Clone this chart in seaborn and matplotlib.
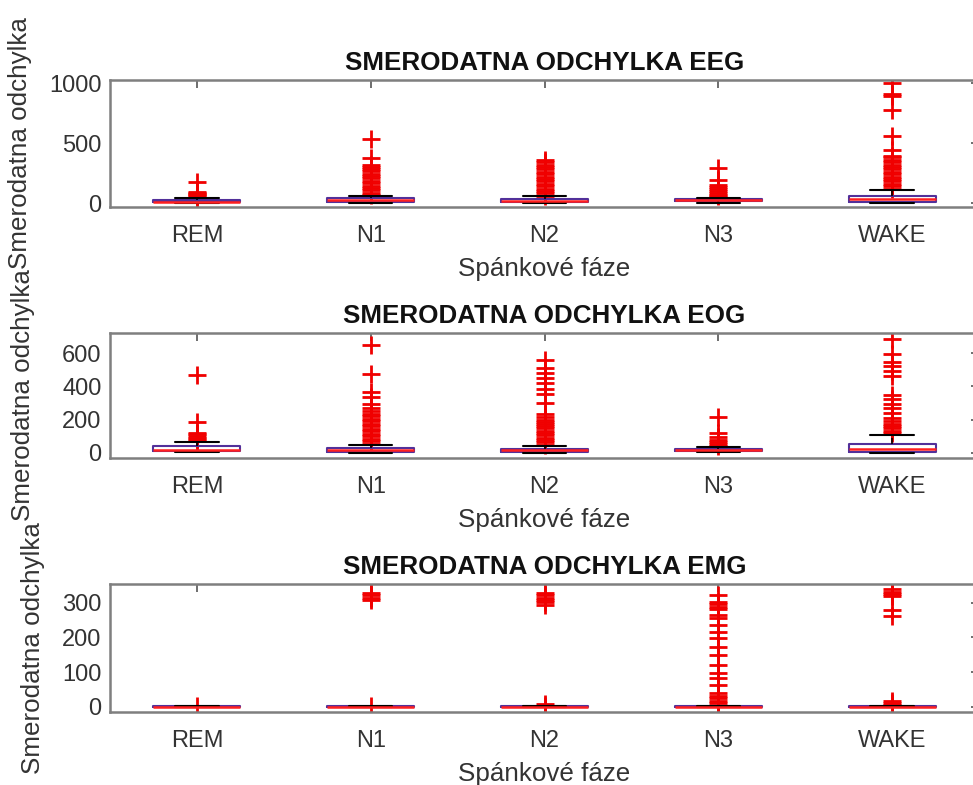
import numpy as np
import pandas as pd
import matplotlib
matplotlib.use("Agg")
import matplotlib.pyplot as plt
import seaborn as sns

stages = ["REM", "N1", "N2", "N3", "WAKE"]

# ---- EEG: box summary per stage (lower whisker, Q1, median, Q3, upper whisker)
eeg_low = [1, 1, 1, 2, 1]
eeg_q1 = [5, 10, 10, 15, 10]
eeg_med = [12, 25, 20, 25, 30]
eeg_q3 = [22, 40, 35, 35, 60]
eeg_high = [40, 60, 55, 45, 110]
eeg_out_rem = [45, 55, 65, 75, 85, 95, 178]
eeg_out_n1 = [65, 85, 105, 125, 145, 165, 185, 205, 225, 245, 265, 285, 300, 315, 375, 530]
eeg_out_n2 = [60, 80, 100, 120, 140, 160, 180, 200, 220, 240, 260, 280, 300, 320, 340, 355]
eeg_out_n3 = [55, 70, 85, 100, 120, 135, 150, 190, 290]
eeg_out_wake = [120, 140, 160, 180, 200, 220, 240, 260, 280, 300, 320, 340, 360, 380, 395,
                440, 555, 775, 890, 910, 1000]

# ---- EOG
eog_low = [3, 1, 1, 2, 1]
eog_q1 = [8, 5, 5, 10, 5]
eog_med = [18, 15, 14, 18, 25]
eog_q3 = [38, 30, 25, 25, 55]
eog_high = [62, 44, 38, 32, 108]
eog_out_rem = [70, 80, 90, 100, 110, 118, 188, 468]
eog_out_n1 = [55, 70, 85, 100, 115, 130, 145, 160, 175, 190, 205, 220, 235, 250, 268,
              294, 336, 368, 474, 648]
eog_out_n2 = [48, 62, 76, 90, 104, 118, 132, 146, 160, 174, 188, 200, 218, 234, 298,
              352, 382, 418, 448, 478, 508, 562]
eog_out_n3 = [40, 52, 65, 78, 94, 118, 218]
eog_out_wake = [118, 132, 146, 160, 175, 190, 208, 238, 268, 294, 322, 348, 462, 494,
                522, 548, 598, 688]

# ---- EMG
emg_low = [0.0, 0.0, 0.0, 0.0, 0.0]
emg_q1 = [0.2, 0.2, 0.2, 0.2, 0.2]
emg_med = [0.5, 0.5, 0.5, 0.5, 0.5]
emg_q3 = [0.9, 0.9, 0.9, 0.9, 0.9]
emg_high = [1.5, 1.5, 1.5, 1.5, 1.5]
emg_out_rem = [3]
emg_out_n1 = [3, 308, 315, 322, 329]
emg_out_n2 = [3, 9, 294, 301, 308, 315, 322, 328]
emg_out_n3 = [3, 10, 17, 24, 30, 39, 63, 83, 97, 121, 150, 172, 198, 217, 236, 255, 265,
              282, 289, 296, 303, 322]
emg_out_wake = [4, 10, 18, 262, 280, 318, 325, 332, 339]

titles = ["SMERODATNA ODCHYLKA EEG", "SMERODATNA ODCHYLKA EOG", "SMERODATNA ODCHYLKA EMG"]
x_label = "Spánkové fáze"
y_label = "Smerodatna odchylka"

channels = [
    (eeg_low, eeg_q1, eeg_med, eeg_q3, eeg_high,
     [eeg_out_rem, eeg_out_n1, eeg_out_n2, eeg_out_n3, eeg_out_wake]),
    (eog_low, eog_q1, eog_med, eog_q3, eog_high,
     [eog_out_rem, eog_out_n1, eog_out_n2, eog_out_n3, eog_out_wake]),
    (emg_low, emg_q1, emg_med, emg_q3, emg_high,
     [emg_out_rem, emg_out_n1, emg_out_n2, emg_out_n3, emg_out_wake]),
]
y_limits = [(-33, 1025), (-32, 722), (-15, 354)]
y_ticks = [[0, 500, 1000], [0, 200, 400, 600], [0, 100, 200, 300]]
ylabel_x = [-0.0898, -0.0863, -0.0748]

# axes rectangles in figure fractions (left, bottom, width, height)
W, H = 973, 785
rects = [(110 / W, (H - 207) / H, 869 / W, 127 / H),
         (110 / W, (H - 458) / H, 869 / W, 125 / H),
         (110 / W, (H - 712) / H, 869 / W, 128 / H)]

sns.set_theme(style="white")
plt.rcParams["font.family"] = ["Liberation Sans", "DejaVu Sans"]

fig = plt.figure(figsize=(W / 100, H / 100), dpi=100)

spine_color = "#7f7f7f"
text_color = "#333333"

for i, (low, q1, med, q3, high, outs) in enumerate(channels):
    ax = fig.add_axes(rects[i])

    box_df = pd.DataFrame({
        "stage": np.repeat(stages, 5),
        "value": np.ravel(np.column_stack([low, q1, med, q3, high])),
    })
    out_df = pd.DataFrame({
        "stage": [s for s, o in zip(stages, outs) for _ in o],
        "value": [v for o in outs for v in o],
    })

    sns.stripplot(data=out_df, x="stage", y="value", order=stages, jitter=False,
                  marker="+", color="#f00000", size=13, linewidth=2.0, ax=ax, zorder=2)

    sns.boxplot(data=box_df, x="stage", y="value", order=stages, whis=(0, 100),
                width=0.5, fill=False, showfliers=False, ax=ax,
                boxprops=dict(color="#52309a", linewidth=1.5, zorder=3),
                medianprops=dict(color="#ff2020", linewidth=1.8, zorder=4),
                whiskerprops=dict(color="black", linewidth=1.2, linestyle="--", zorder=3),
                capprops=dict(color="black", linewidth=1.5, zorder=3))

    ax.set_xlim(-0.5, 4.5)
    ax.set_ylim(*y_limits[i])
    ax.set_yticks(y_ticks[i])
    ax.set_title(titles[i], fontsize=18.7, fontweight="bold", color="#111111", pad=7)
    ax.set_xlabel(x_label, fontsize=18.7, color=text_color, labelpad=7)
    ax.set_ylabel(y_label, fontsize=18.7, color=text_color)
    ax.yaxis.set_label_coords(ylabel_x[i], 0.5)

    ax.tick_params(axis="both", direction="in", top=True, right=True, length=5.5,
                   width=1.2, color="#555555", labelsize=17, labelcolor=text_color)
    ax.tick_params(axis="x", pad=13)
    ax.tick_params(axis="y", pad=6)
    for sp in ax.spines.values():
        sp.set_visible(True)
        sp.set_color(spine_color)
        sp.set_linewidth(1.8)
    ax.grid(False)

fig.savefig("out.png", dpi=100)
